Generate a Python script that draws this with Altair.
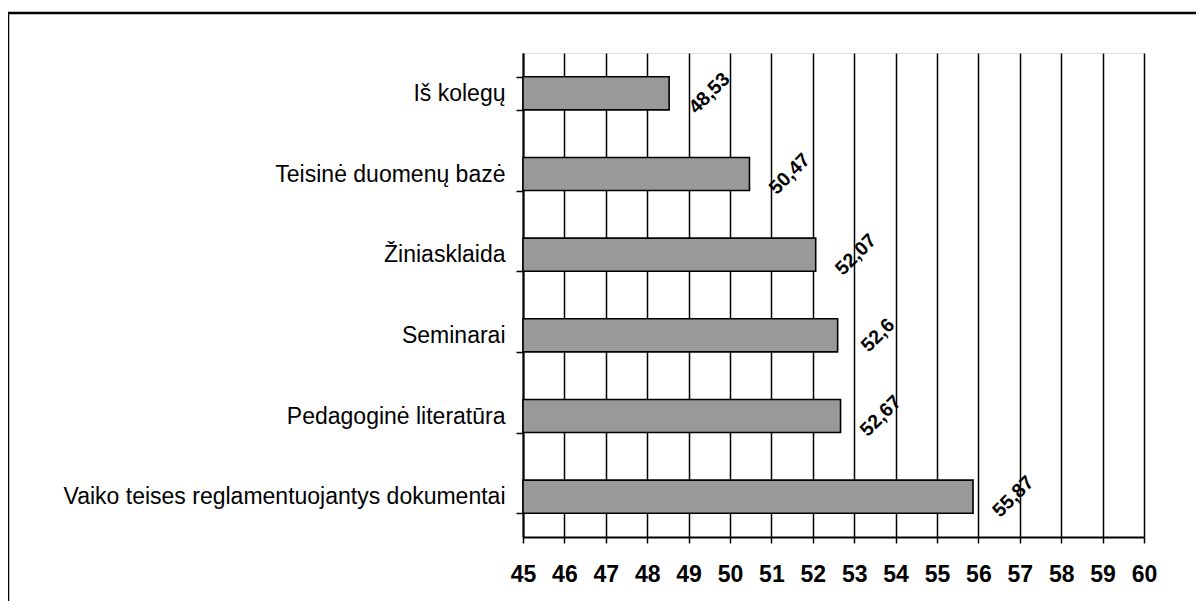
import altair as alt
import pandas as pd

categories = [
    "Iš kolegų",
    "Teisinė duomenų bazė",
    "Žiniasklaida",
    "Seminarai",
    "Pedagoginė literatūra",
    "Vaiko teises reglamentuojantys dokumentai",
]
values = [48.53, 50.47, 52.07, 52.6, 52.67, 55.87]
x_ticks = list(range(45, 61))

df = pd.DataFrame({"category": categories, "value": values})

FONT = "Liberation Sans"

xscale = alt.Scale(domain=[45, 60], zero=False, nice=False)
yscale = alt.Scale(paddingInner=0.59, paddingOuter=0.295)

base = alt.Chart(df)

bars = base.mark_bar(
    fill="#999999", stroke="#000000", strokeWidth=1.6
).encode(
    x=alt.X(
        "value:Q",
        scale=xscale,
        axis=alt.Axis(
            title=None,
            values=x_ticks,
            format="d",
            grid=True,
            gridColor="#000000",
            gridWidth=1.5,
            gridOpacity=1,
            domainColor="#000000",
            domainWidth=2,
            tickColor="#000000",
            tickWidth=1.5,
            tickSize=6,
            labelFont=FONT,
            labelFontSize=23,
            labelFontWeight="bold",
            labelColor="#000000",
            labelPadding=20,
            labelFlush=False,
            labelOverlap=False,
        ),
    ),
    x2=alt.datum(45),
    y=alt.Y(
        "category:N",
        sort=None,
        scale=yscale,
        axis=alt.Axis(
            title=None,
            grid=False,
            tickBand="extent",
            domainColor="#000000",
            domainWidth=2,
            tickColor="#000000",
            tickWidth=1.5,
            tickSize=7,
            labelFont=FONT,
            labelFontSize=23,
            labelColor="#000000",
            labelPadding=11,
            labelLimit=600,
        ),
    ),
)

labels = base.transform_calculate(
    label="replace(toString(datum.value), '.', ',')"
).mark_text(
    angle=315,
    align="center",
    baseline="middle",
    dx=28.5,
    dy=28.5,
    font=FONT,
    fontSize=19.5,
    fontWeight="bold",
    color="#000000",
).encode(
    x=alt.X("value:Q", scale=xscale),
    y=alt.Y("category:N", sort=None, scale=yscale),
    text="label:N",
)

frame = alt.Chart(pd.DataFrame({"f": [0]})).mark_rect(
    fill=None, stroke="#000000", strokeWidth=2.5
).encode(
    x=alt.value(-515),
    x2=alt.value(1000),
    y=alt.value(-40),
    y2=alt.value(1000),
)

chart = alt.layer(frame, bars, labels).properties(
    width=621,
    height=484,
    autosize=alt.AutoSizeParams(type="none"),
    padding={"left": 515, "top": 45, "right": 52, "bottom": 64},
).configure_view(stroke=None).configure(background="#ffffff")

chart.save("out.html", embed_options={"renderer": "svg", "actions": False})
